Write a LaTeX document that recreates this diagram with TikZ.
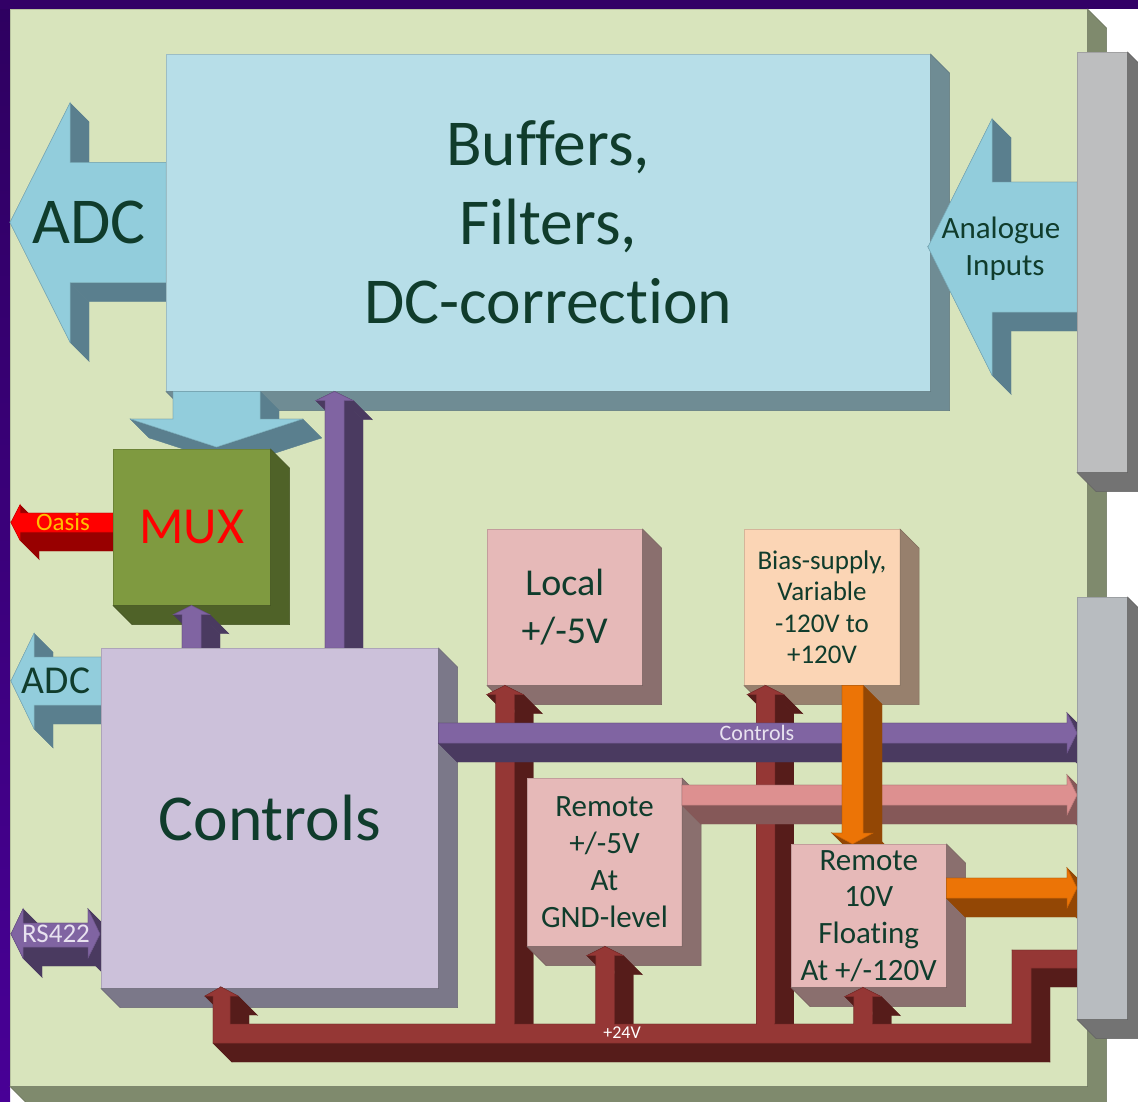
\documentclass[tikz,border=0pt]{standalone}
\usepackage{fontspec}
\setmainfont[RawFeature={-liga;-clig}]{Carlito}
\usetikzlibrary{calc}
\definecolor{inkgreen}{HTML}{103C2C}
\definecolor{frameA}{HTML}{2E0060}
\definecolor{frameB}{HTML}{480096}
\definecolor{frameC}{HTML}{320066}
\definecolor{oasisY}{HTML}{FFC000}
\definecolor{lilac}{HTML}{E8E2F0}
\definecolor{boardF}{HTML}{D8E4BC}
\definecolor{boardS}{HTML}{7F8A6D}
\definecolor{bufF}{HTML}{B7DEE8}
\definecolor{bufS}{HTML}{6F8C94}
\definecolor{bluF}{HTML}{92CDDC}
\definecolor{bluS}{HTML}{5A7F8E}
\definecolor{ctlF}{HTML}{CCC1DA}
\definecolor{ctlS}{HTML}{7B7889}
\definecolor{muxF}{HTML}{7F9A40}
\definecolor{muxS}{HTML}{4F6228}
\definecolor{pnkF}{HTML}{E6B9B8}
\definecolor{pnkS}{HTML}{8A6F6E}
\definecolor{bisF}{HTML}{FBD5B5}
\definecolor{bisS}{HTML}{97806D}
\definecolor{purF}{HTML}{8064A2}
\definecolor{purS}{HTML}{4A3A60}
\definecolor{redF}{HTML}{FF0000}
\definecolor{redS}{HTML}{980000}
\definecolor{busF}{HTML}{DD9090}
\definecolor{busS}{HTML}{855858}
\definecolor{orgF}{HTML}{EC7406}
\definecolor{orgS}{HTML}{934705}
\definecolor{pwrF}{HTML}{953735}
\definecolor{pwrS}{HTML}{561C1A}
\definecolor{panF}{HTML}{BDBEBF}
\definecolor{panG}{HTML}{B8BCC0}
\definecolor{panS}{HTML}{737373}
\tikzset{
  edgeline/.style={draw=#1!85!black, line width=.5pt},
  boxgeom/.style={rectangle, inner sep=0pt, align=center, text=inkgreen, anchor=north west},
  lbl/.style={inner sep=0pt, align=center}
}
\newcommand{\fs}[2]{\fontsize{#1}{#2}\selectfont}
\newcommand{\dep}{19}
% box with right and bottom faces: name, x, y, w, h, front, side, font, text
\newcommand{\solidbox}[9]{%
  \node[boxgeom, fill=#6, edgeline=#6, minimum width=#4pt, minimum height=#5pt, font=#8] (#1) at (#2,#3) {#9};
  \fill[#7, edgeline=#7] (#1.north east) -- ++(\dep,\dep) -- ($(#1.south east)+(\dep,\dep)$) -- ($(#1.south west)+(\dep,\dep)$) -- (#1.south west) -- (#1.south east) -- cycle;
}
% block arrow: start, tip, shaft w, head w, head length, front, side
\newcommand{\blockarrow}[7]{%
  \coordinate (qa) at (#1); \coordinate (qb) at (#2);
  \coordinate (qc) at ($(qb)!#5pt!(qa)$);
  \coordinate (P1) at ($(qa)!{#3pt/2}!90:(qb)$);
  \coordinate (P2) at ($(qc)!{#3pt/2}!-90:(qa)$);
  \coordinate (P3) at ($(qc)!{#4pt/2}!-90:(qa)$);
  \coordinate (P4) at (qb);
  \coordinate (P5) at ($(qc)!{#4pt/2}!90:(qa)$);
  \coordinate (P6) at ($(qc)!{#3pt/2}!90:(qa)$);
  \coordinate (P7) at ($(qa)!{#3pt/2}!-90:(qb)$);
  \foreach \qu/\qv in {P1/P2,P2/P3,P3/P4,P4/P5,P5/P6,P6/P7,P7/P1}{
    \fill[#7, draw=#7, line width=.4pt] (\qu) -- (\qv) -- ($(\qv)+(\dep,\dep)$) -- ($(\qu)+(\dep,\dep)$) -- cycle;
  }
  \fill[#6, edgeline=#6] (P1) -- (P2) -- (P3) -- (P4) -- (P5) -- (P6) -- (P7) -- cycle;
}
% free polygon with depth: front, side, first x, first y, other points
\newcommand{\blockpoly}[5]{%
  \foreach \qx/\qy [remember=\qx as \qlx (initially #3), remember=\qy as \qly (initially #4)] in {#5,#3/#4}{
    \fill[#2, draw=#2, line width=.4pt] (\qlx,\qly) -- (\qx,\qy) -- (\qx+\dep,\qy+\dep) -- (\qlx+\dep,\qly+\dep) -- cycle;
  }
  \fill[#1, edgeline=#1] (#3,#4) \foreach \qx/\qy in {#5}{ -- (\qx,\qy) } -- cycle;
}
\begin{document}
\begin{tikzpicture}[x=1pt,y=-1pt]
\useasboundingbox (0,0) rectangle (1138,1101);
\clip (0,0) rectangle (1138,1101);
\fill[white] (0,0) rectangle (1138,1101);
% frame
\shade[top color=frameA, bottom color=frameB] (0,0) rectangle (10,1101);
\fill[frameC] (0,0) rectangle (1138,9);
% board
\solidbox{board}{10}{9}{1077}{1077}{boardF}{boardS}{}{}
% endpoints on the boxes that are drawn later
\coordinate (ctlMux) at (191.5,648);
\coordinate (ctlBuf) at (334.5,648);
\coordinate (muxOasis) at (113,522.5);
\coordinate (ctlAdc) at (101,681);
\coordinate (trunkA) at (505,1024);
\coordinate (trunkB) at (765.5,1024);
\coordinate (trunkC) at (863,1024);
\coordinate (trunkD) at (605,1024);
\coordinate (panelA) at (1077,733);
\coordinate (panelB) at (1077,795);
\coordinate (panelC) at (1077,888);
\coordinate (panelAna) at (1077,247);
\coordinate (mux10) at (852.5,844);
% ADC arrow beneath the buffers
\blockarrow{166,222.5}{10,222.5}{120}{239}{60}{bluF}{bluS}
\solidbox{buf}{166}{54}{764}{337}{bufF}{bufS}{\fs{65.5}{79}}{Buffers,\\Filters,\\DC-correction}
\blockarrow{panelAna}{928,247}{130}{256}{64}{bluF}{bluS}
\blockarrow{buf.south -| 216.5,0}{216.5,447}{87}{172}{28}{bluF}{bluS}
\blockarrow{ctlBuf}{buf.south -| 334.5,0}{19}{37}{9}{purF}{purS}
\blockarrow{muxOasis}{11,522.5}{19}{35}{9}{redF}{redS}
\solidbox{mux}{113}{449}{157}{156}{muxF}{muxS}{\fs{52}{52}}{\textcolor{red}{MUX}}
\blockarrow{ctlMux}{mux.south -| 191.5,0}{19}{36}{9}{purF}{purS}
\blockarrow{ctlAdc}{11,681}{48}{95}{23}{bluF}{bluS}
\blockpoly{purF}{purS}{11}{934}{23/909,23/923,88/923,88/909,100/934,88/958,88/947,23/947,23/958}
\solidbox{ctl}{101}{648}{337}{340}{ctlF}{ctlS}{\fs{65.5}{66}}{Controls}
\solidbox{loc}{487}{529}{155}{156}{pnkF}{pnkS}{\fs{38}{48}}{Local\\+/-5V}
\solidbox{bias}{744}{529}{155.5}{156}{bisF}{bisS}{\fs{27}{31.5}}{Bias-supply,\\Variable\\-120V to\\+120V}
\blockarrow{trunkA}{loc.south -| 505,0}{18.5}{36}{9}{pwrF}{pwrS}
\blockarrow{trunkB}{bias.south -| 765.5,0}{18.5}{36}{9}{pwrF}{pwrS}
\blockarrow{ctl.east |- panelA}{panelA}{20}{40}{10}{purF}{purS}
\solidbox{remg}{527}{778}{154.5}{168}{pnkF}{pnkS}{\fs{31}{37}}{Remote\\+/-5V\\At\\GND-level}
\blockarrow{trunkD}{remg.south -| 605,0}{18.5}{36}{9}{pwrF}{pwrS}
\blockarrow{remg.east |- panelB}{panelB}{20}{40}{10}{busF}{busS}
\blockarrow{bias.south -| 852.5,0}{mux10}{21}{41}{11}{orgF}{orgS}
\solidbox{remf}{791}{844}{155}{143}{pnkF}{pnkS}{\fs{31}{36.7}}{Remote\\10V\\Floating\\At +/-120V}
\blockarrow{remf.east |- panelC}{panelC}{20}{40}{10}{orgF}{orgS}
\blockarrow{trunkC}{remf.south -| 863,0}{18.5}{36}{9}{pwrF}{pwrS}
% +24V trunk
\blockpoly{pwrF}{pwrS}{221}{987}{238/996,230/996,230/1024,1012/1024,1012/950,1077/950,1077/968,1031/968,1031/1043,213/1043,213/996,205/996}
% seams where the risers join the trunk
\foreach \qs in {505,765.5,863,605}{
  \fill[pwrF] (\qs-8.9,1020) rectangle (\qs+8.9,1027);
}
% connector panels
\solidbox{panA}{1077}{52}{50}{420}{panF}{panS}{}{}
\solidbox{panB}{1077}{597}{50}{422}{panG}{panS}{}{}
% arrow labels
\node[lbl, text=inkgreen, font=\fs{65.5}{66}] (tAdc) at (89,222) {ADC};
\node[lbl, text=inkgreen, font=\fs{31}{37}] (tAna) at (1001,249) {Analogue\\\hspace*{8pt}Inputs};
\node[lbl, text=oasisY, font=\fs{25}{25}] (tOasis) at (63,522) {Oasis};
\node[lbl, text=inkgreen, font=\fs{39.5}{40}] (tAdc2) at (56,681) {ADC};
\node[lbl, text=lilac, font=\fs{27}{27}] (tRs) at (56,934) {RS422};
\node[lbl, text=lilac, font=\fs{22}{22}] (tCtl) at (757,733) {Controls};
\node[lbl, text=white, font=\fs{18}{18}] (t24) at (622,1033) {+24V};
\end{tikzpicture}
\end{document}
